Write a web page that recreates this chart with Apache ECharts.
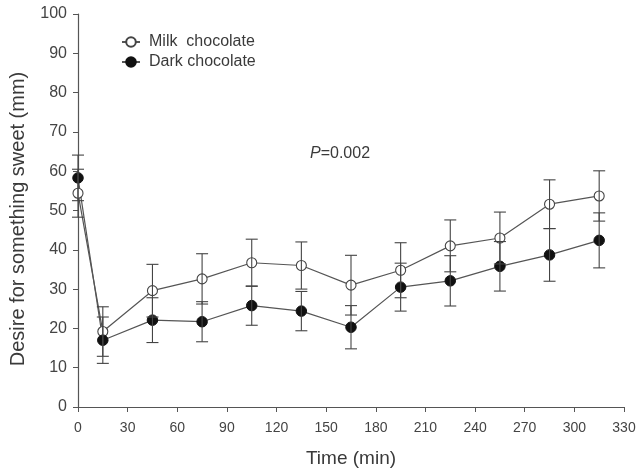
<!DOCTYPE html>
<html><head><meta charset="utf-8">
<script src="https://cdn.jsdelivr.net/npm/echarts@6/dist/echarts.min.js"></script>
<style>html,body{margin:0;padding:0;background:#fff}#c{width:637px;height:469px}</style>
</head><body><div id="c"></div>
<script>
var times = [0, 15, 45, 75, 105, 135, 165, 195, 225, 255, 285, 315];
var milkMean = [54.4, 19.2, 29.6, 32.6, 36.7, 36.0, 31.0, 34.8, 41.0, 43.0, 51.6, 53.7];
var milkSE   = [6.1, 6.3, 6.7, 6.4, 6.0, 6.0, 7.6, 7.0, 6.6, 6.6, 6.2, 6.4];
var darkMean = [58.3, 17.0, 22.1, 21.7, 25.8, 24.4, 20.3, 30.5, 32.1, 35.8, 38.7, 42.4];
var darkSE   = [5.8, 5.9, 5.7, 5.1, 5.0, 5.0, 5.5, 6.1, 6.4, 6.3, 6.7, 7.0];
var xTicks = [0, 30, 60, 90, 120, 150, 180, 210, 240, 270, 300, 330];
var yTicks = [0, 10, 20, 30, 40, 50, 60, 70, 80, 90, 100];
var seriesNames = ['Milk  chocolate', 'Dark chocolate'];
var pText = '0.002';
var xTitle = 'Time (min)';
var yTitle = 'Desire for something sweet (mm)';

var axisCol = '#555';
var txtCol = '#3a3a3a';
var font = 'Liberation Sans, Arial, sans-serif';

function pts(m){ return times.map(function(t,i){return [t,m[i]];}); }
function errData(m,s){ return times.map(function(t,i){return [t,m[i]-s[i],m[i]+s[i]];}); }
function errSeries(m,s,z){
  return {
    type:'custom', silent:true, z:z,
    data: errData(m,s),
    renderItem:function(params,api){
      var x=api.value(0), lo=api.coord([x,api.value(1)]), hi=api.coord([x,api.value(2)]);
      var w=6;
      var st={stroke:'#444',lineWidth:1.1};
      return {type:'group',children:[
        {type:'line',shape:{x1:lo[0],y1:lo[1],x2:hi[0],y2:hi[1]},style:st},
        {type:'line',shape:{x1:lo[0]-w,y1:lo[1],x2:lo[0]+w,y2:lo[1]},style:st},
        {type:'line',shape:{x1:hi[0]-w,y1:hi[1],x2:hi[0]+w,y2:hi[1]},style:st}
      ]};
    }
  };
}

var chart = echarts.init(document.getElementById('c'), null, {renderer:'canvas'});
chart.setOption({
  animation:false,
  backgroundColor:'#fff',
  grid:{left:78, right:13, top:14, bottom:62, containLabel:false, outerBoundsMode:'none'},
  legend:{
    left:116, top:29, orient:'vertical', itemGap:4, itemWidth:18, itemHeight:12,
    textStyle:{fontFamily:font, fontSize:16, color:txtCol, padding:[0,0,0,4]},
    data:[seriesNames[0], seriesNames[1]]
  },
  xAxis:{
    type:'value', min:0, max:330, interval:30,
    name:xTitle, nameLocation:'middle', nameGap:42,
    nameTextStyle:{fontFamily:font, fontSize:19, color:txtCol},
    axisLine:{lineStyle:{color:axisCol, width:1.2}},
    axisTick:{show:true, length:5, lineStyle:{color:axisCol}},
    axisLabel:{fontFamily:font, fontSize:14, color:'#444', margin:14,
      formatter:function(v){return xTicks.indexOf(v)>=0?String(v):'';}},
    splitLine:{show:false}
  },
  yAxis:{
    type:'value', min:0, max:100, interval:10,
    axisLine:{show:true, lineStyle:{color:axisCol, width:1.2}},
    axisTick:{show:true, length:5, lineStyle:{color:axisCol}},
    axisLabel:{fontFamily:font, fontSize:16, color:'#444', margin:11,
      formatter:function(v){return yTicks.indexOf(v)>=0?String(v):'';}},
    splitLine:{show:false}
  },
  graphic:[{
    type:'text', left:310, top:146,
    style:{rich:{i:{fontStyle:'italic', fontFamily:font, fontSize:16, fill:txtCol},
                 n:{fontFamily:font, fontSize:16, fill:txtCol}},
           text:'{i|P}{n|=' + pText + '}'}
  },{
    type:'text', x:18, y:219, rotation:Math.PI/2,
    style:{text:yTitle, fontFamily:font, fontSize:20, fill:txtCol, align:'center', verticalAlign:'middle'}
  }],
  series:[
    {
      name:seriesNames[0], type:'line', data:pts(milkMean), z:3,
      symbol:'circle', symbolSize:10, showAllSymbol:true,
      lineStyle:{color:'#555', width:1.2},
      itemStyle:{color:'#fff', borderColor:'#444', borderWidth:1.1}
    },
    {
      name:seriesNames[1], type:'line', data:pts(darkMean), z:3,
      symbol:'circle', symbolSize:10.5, showAllSymbol:true,
      lineStyle:{color:'#555', width:1.2},
      itemStyle:{color:'#111', borderColor:'#111', borderWidth:1}
    },
    errSeries(milkMean, milkSE, 4),
    errSeries(darkMean, darkSE, 4)
  ]
});
</script></body></html>
